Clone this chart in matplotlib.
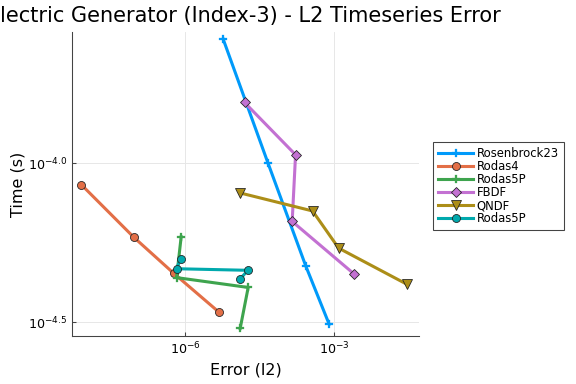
import matplotlib
matplotlib.use("Agg")
from matplotlib import pyplot as plt
from matplotlib.ticker import FixedLocator, NullLocator
import numpy as np

# error (l2) and time (s) for each solver
names = ["Rosenbrock23", "Rodas4", "Rodas5P", "FBDF", "QNDF", "Rodas5P"]

err_ros23 = [10**-5.23, 10**-4.33, 10**-3.571, 10**-3.097]
time_ros23 = [10**-3.608, 10**-3.998, 10**-4.322, 10**-4.507]

err_rodas4 = [10**-8.08, 10**-7.026, 10**-6.22, 10**-5.32]
time_rodas4 = [10**-4.0675, 10**-4.233, 10**-4.347, 10**-4.468]

err_rodas5p = [10**-6.074, 10**-6.167, 10**-4.726, 10**-4.887]
time_rodas5p = [10**-4.2315, 10**-4.36, 10**-4.391, 10**-4.52]

err_fbdf = [10**-4.80, 10**-3.773, 10**-3.841, 10**-2.60]
time_fbdf = [10**-3.808, 10**-3.973, 10**-4.183, 10**-4.348]

err_qndf = [10**-4.893, 10**-3.431, 10**-2.907, 10**-1.533]
time_qndf = [10**-4.093, 10**-4.150, 10**-4.267, 10**-4.381]

err_rodas5p_b = [10**-6.087, 10**-6.167, 10**-4.732, 10**-4.887]
time_rodas5p_b = [10**-4.301, 10**-4.332, 10**-4.337, 10**-4.364]

errs = [err_ros23, err_rodas4, err_rodas5p, err_fbdf, err_qndf, err_rodas5p_b]
times = [time_ros23, time_rodas4, time_rodas5p, time_fbdf, time_qndf, time_rodas5p_b]
colors = ["#009AFA", "#E36F47", "#3EA44E", "#C371D2", "#AC8E18", "#00A9AD"]
markers = ["P", "o", "P", "D", "v", "o"]
msizes = [6, 6, 6, 5, 7, 6]

fig = plt.figure(figsize=(6, 4), dpi=96)
ax = fig.add_axes([72/576, 1 - 336/384, (419-72)/576, (336-32)/384])

for e, t, c, m, ms, n in zip(errs, times, colors, markers, msizes, names):
    if m == "P":
        ax.plot(e, t, color=c, lw=2.3, marker=m, ms=ms, mec=c, mew=0.2, label=n)
    else:
        ax.plot(e, t, color=c, lw=2.3, marker=m, ms=ms, mec="#222222", mew=0.6, label=n)

ax.set_xscale("log")
ax.set_yscale("log")
ax.set_xlim(10**-8.27, 10**-1.29)
ax.set_ylim(10**-4.544, 10**-3.586)

ax.xaxis.set_major_locator(FixedLocator([1e-6, 1e-3]))
ax.xaxis.set_minor_locator(NullLocator())
ax.set_xticklabels([r"$10^{-6}$", r"$10^{-3}$"])
ax.yaxis.set_major_locator(FixedLocator([10**-4.0, 10**-4.5]))
ax.yaxis.set_minor_locator(NullLocator())
ax.set_yticklabels([r"$10^{-4.0}$", r"$10^{-4.5}$"])

ax.tick_params(direction="in", length=3, labelsize=9.5, color="#444444")
ax.grid(True, color="#e6e6e6", lw=0.7)
ax.set_axisbelow(True)
for s in ["top", "right"]:
    ax.spines[s].set_visible(False)
for s in ["left", "bottom"]:
    ax.spines[s].set_color("#444444")

ax.set_xlabel("Error (l2)", fontsize=12)
ax.set_ylabel("Time (s)", fontsize=12, labelpad=2)
fig.text(0.0, 1 - 16/384, "lectric Generator (Index-3) - L2 Timeseries Error",
         fontsize=15.7, ha="left", va="center")

leg = ax.legend(loc="upper left", bbox_to_anchor=(433/576, 1 - 142/384),
                bbox_transform=fig.transFigure, fontsize=8.7, fancybox=False,
                edgecolor="#444444", framealpha=1, borderpad=0.45,
                handlelength=3.0, labelspacing=0.0, handletextpad=0.3,
                borderaxespad=0)
leg.get_frame().set_linewidth(0.8)

fig.savefig("out.png", dpi=96)
